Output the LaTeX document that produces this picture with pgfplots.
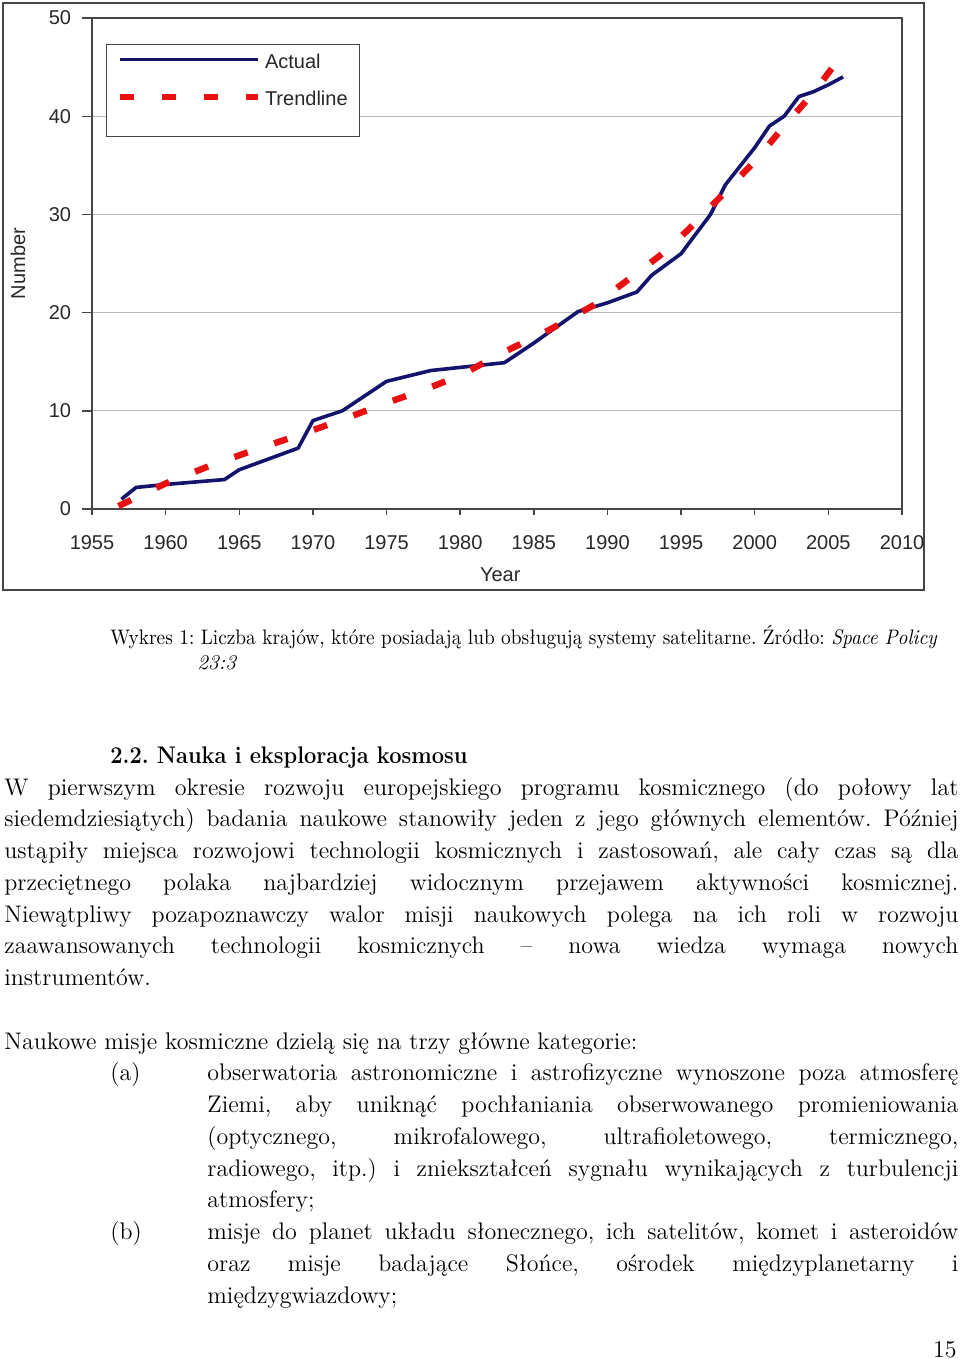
\documentclass[border=0pt]{standalone}
\usepackage{fontspec}
\usepackage{graphicx}
\usepackage{pgfplots}
\pgfplotsset{compat=1.18}
\newfontfamily\chartfont{Liberation Sans}
\definecolor{navy}{RGB}{20,20,110}
\definecolor{trendred}{RGB}{232,16,16}
\definecolor{axgray}{RGB}{70,70,70}
\definecolor{gridgray}{RGB}{185,185,185}
\definecolor{labgray}{RGB}{40,40,40}
\frenchspacing
\newcommand{\cf}{\chartfont\fontsize{10pt}{12pt}\selectfont}
\newcommand{\bodyfont}{\fontsize{12pt}{14pt}\selectfont}
\newcommand{\jline}[3]{\node[anchor=base west, inner sep=0pt] at (#1pt,-#2pt) {\bodyfont\makebox[\dimexpr479pt-#1pt\relax][s]{#3}};}
\newcommand{\nline}[3]{\node[anchor=base west, inner sep=0pt] at (#1pt,-#2pt) {\bodyfont #3};}

\begin{document}
\begin{tikzpicture}
\useasboundingbox (0,0) rectangle (480pt,-679.5pt);
\fill[white] (0,0) rectangle (480pt,-679.5pt);
\draw[axgray, line width=0.6pt] (1.5pt,-1.5pt) rectangle (462pt,-295pt);
\begin{axis}[
  scale only axis, width=405pt, height=245.5pt,
  at={(46pt,-254.5pt)}, anchor=south west,
  xmin=1955, xmax=2010, ymin=0, ymax=50,
  xtick={1955,1960,...,2010}, ytick={0,10,...,50},
  xtick pos=bottom, ytick pos=left,
  axis line style={axgray, line width=0.7pt},
  tick align=outside,
  tick style={axgray, line width=0.7pt},
  xtick style={/pgfplots/major tick length=3pt},
  ytick style={/pgfplots/major tick length=5pt},
  ymajorgrids, grid style={gridgray, line width=0.5pt},
  /pgf/number format/assume math mode=true,
  /pgf/number format/1000 sep={},
  tick label style={font=\cf, text=labgray},
  xticklabel style={anchor=north, inner sep=0pt, yshift=-9pt},
  yticklabel style={anchor=east, inner sep=0pt, xshift=-6pt},
  xlabel={Year}, ylabel={Number},
  label style={font=\cf, text=labgray},
  xlabel style={at={(axis description cs:0.504,-0.1344)}, anchor=center},
  ylabel style={at={(axis description cs:-0.0914,0.5)}, anchor=center},
  legend style={at={(axis description cs:0.0173,0.947)}, anchor=north west,
    draw=axgray, line width=0.6pt, font=\cf, text=labgray,
    nodes={inner sep=1pt},
    inner xsep=5pt, inner ysep=3.5pt, row sep=8pt, column sep=1pt},
  legend cell align=left,
  legend image code/.code={\draw[#1] (0pt,1.5pt) -- (69pt,1.5pt);},
]
\addplot[navy, line width=1.8pt, line join=round] coordinates {
(1957,1.0) (1958,2.2) (1960,2.5) (1964,3.0) (1965,4.0) (1969,6.2) (1970,9.0)
(1972,10.0) (1975,13.0) (1978,14.1) (1983,14.9) (1985,16.9) (1988,20.1)
(1990,21.0) (1992,22.1) (1993,23.8) (1995,26.0) (1997,30.0) (1998,33.0)
(2000,36.8) (2001,39.0) (2002,40.0) (2003,42.0) (2004,42.5) (2005,43.2) (2006,44.0)
};
\addlegendentry{Actual}
\addplot[trendred, line width=3.2pt, dash pattern=on 7pt off 14pt] coordinates {
(1956.8,0.3) (1960,2.6) (1963,4.4) (1966,6.0) (1969,7.5) (1972,9.1) (1975,10.8)
(1978,12.4) (1980,13.6) (1983,16.0) (1986,18.2) (1989,20.7) (1991,22.9)
(1994,26.3) (1996,29.2) (1998,32.3) (2000,35.4) (2002,39.0) (2004,42.4) (2006.2,46.8)
};
\addlegendentry{Trendline}
\addlegendimage{legend image code/.code={}}
\addlegendentry[inner sep=0pt]{}
\end{axis}

% caption
\node[anchor=base west, inner sep=0pt] at (55pt,-322pt) {\resizebox{413.5pt}{\height}{\fontsize{10.5pt}{12pt}\selectfont Wykres 1: Liczba krajów, które posiadają lub obsługują systemy satelitarne. Źródło: \textit{Space Policy}}};
\node[anchor=base west, inner sep=0pt] at (98.5pt,-334.5pt) {\fontsize{10.5pt}{12pt}\selectfont\textit{23:3}};

% heading
\node[anchor=base west, inner sep=0pt] at (55pt,-381.5pt) {\resizebox{178.5pt}{\height}{\bodyfont\bfseries 2.2. Nauka i eksploracja kosmosu}};

\jline{2}{397.5}{W pierwszym okresie rozwoju europejskiego programu kosmicznego (do połowy lat}
\jline{2}{413.375}{siedemdziesiątych) badania naukowe stanowiły jeden z jego głównych elementów. Później}
\jline{2}{429.25}{ustąpiły miejsca rozwojowi technologii kosmicznych i zastosowań, ale cały czas są dla}
\jline{2}{445.125}{przeciętnego polaka najbardziej widocznym przejawem aktywności kosmicznej.}
\jline{2}{461}{Niewątpliwy pozapoznawczy walor misji naukowych polega na ich roli w rozwoju}
\jline{2}{476.875}{zaawansowanych technologii kosmicznych – nowa wiedza wymaga nowych}
\nline{2}{492.75}{instrumentów.}
\nline{2}{524.5}{Naukowe misje kosmiczne dzielą się na trzy główne kategorie:}
\nline{55}{540.375}{(a)}
\jline{103.5}{540.375}{obserwatoria astronomiczne i astrofizyczne wynoszone poza atmosferę}
\jline{103.5}{556.25}{Ziemi, aby uniknąć pochłaniania obserwowanego promieniowania}
\jline{103.5}{572.125}{(optycznego, mikrofalowego, ultrafioletowego, termicznego,}
\jline{103.5}{588}{radiowego, itp.) i zniekształceń sygnału wynikających z turbulencji}
\nline{103.5}{603.875}{atmosfery;}
\nline{55}{619.75}{(b)}
\jline{103.5}{619.75}{misje do planet układu słonecznego, ich satelitów, komet i asteroidów}
\jline{103.5}{635.625}{oraz misje badające Słońce, ośrodek międzyplanetarny i}
\nline{103.5}{651.5}{międzygwiazdowy;}
\node[anchor=base east, inner sep=0pt] at (478.5pt,-678.5pt) {\bodyfont 15};
\end{tikzpicture}
\end{document}
